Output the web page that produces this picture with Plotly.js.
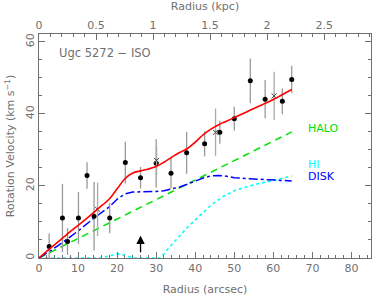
<!DOCTYPE html>
<html>
<head>
<meta charset="utf-8">
<script src="https://cdn.plot.ly/plotly-3.0.1.min.js"></script>
<style>html,body{margin:0;padding:0;background:#fff}#chart{width:375px;height:300px}</style>
</head>
<body>
<div id="chart"></div>
<script>
// observed points (filled circles)
const obsR   = [2.6, 6.0, 7.3, 10.1, 12.3, 14.1, 18.1, 22.1, 26.0, 30.0, 33.8, 37.8, 42.4, 46.3, 50.0, 54.1, 57.9, 62.3, 64.7];
const obsV   = [3.2, 11.1, 4.6, 11.1, 22.9, 11.6, 11.1, 26.5, 22.3, 26.3, 23.5, 29.2, 31.7, 34.9, 38.7, 49.2, 44.1, 43.5, 49.6];
const obsErr = [3.6, 9.5, 3.7, 7.2, 3.7, 9.5, 4.2, 5.8, 3.0, 6.7, 4.3, 5.8, 3.5, 3.2, 3.3, 6.2, 5.3, 3.6, 3.8];
// secondary points (crosses)
const xR   = [15.0, 30.1, 45.2, 60.2];
const xV   = [13.5, 27.1, 34.9, 45.0];
const xErr = [7.4, 4.0, 6.6, 6.7];
// model curves
const totR = [0, 3, 6, 9, 12, 15, 18, 20, 22, 24, 26, 28, 30, 32, 34, 36, 38, 40, 42, 44, 46, 48, 50, 52, 54, 56, 58, 60, 62, 64.7];
const totV = [0, 2.8, 5.5, 8.2, 10.8, 13.6, 16.4, 19.2, 22.0, 23.6, 24.2, 24.7, 25.4, 26.6, 28.0, 29.3, 30.4, 32.2, 34.2, 35.8, 37.0, 38.0, 39.0, 40.0, 41.0, 42.0, 43.0, 44.0, 45.2, 46.8];
const diskR = [0, 5, 10, 14, 18, 20, 22, 24, 26, 28, 30, 32, 34, 36, 38, 40, 42, 44, 46, 48, 50, 54, 58, 62, 64.7];
const diskV = [0, 3.5, 7.5, 11.0, 14.2, 16.3, 17.8, 18.3, 18.4, 18.4, 18.5, 18.7, 19.1, 19.7, 20.5, 21.4, 22.2, 22.8, 22.9, 22.7, 22.3, 22.0, 21.7, 21.5, 21.4];
const haloR = [0, 5, 10, 20, 30, 40, 50, 60, 64.7];
const haloV = [0, 2.7, 5.5, 10.9, 16.4, 21.8, 27.1, 32.4, 35.0];
const hiR = [0, 4, 8, 12, 16, 18, 20, 22, 24, 28, 31, 33, 35, 38, 41, 44, 47, 50, 53, 56, 60, 64.7];
const hiV = [0, 0, 0, 0, 0, 0.6, 1.2, 0.8, 0, 0, 0, 2.5, 5.0, 8.5, 11.6, 14.6, 17.0, 18.7, 19.7, 20.6, 21.5, 22.8];
// axes
const xRange = [0, 85];
const yRange = [0, 62.2];
const arcsecPerKpc = 29.2;
const label = "Ugc 5272 − ISO";

const grey = '#707070';
const font = {family: 'DejaVu Sans', size: 11, color: grey};

const traces = [
  {x: hiR, y: hiV, mode: 'lines', line: {color: '#00ffff', width: 1.6, dash: 'dot'}, hoverinfo: 'skip'},
  {x: haloR, y: haloV, mode: 'lines', line: {color: '#00e000', width: 1.5, dash: '7px,5px'}, hoverinfo: 'skip'},
  {x: diskR, y: diskV, mode: 'lines', line: {color: '#0000ff', width: 1.5, dash: 'dashdot'}, hoverinfo: 'skip'},
  {x: obsR, y: obsV, mode: 'markers', marker: {color: '#000', size: 5},
   error_y: {type: 'data', array: obsErr, color: '#999', thickness: 1.3, width: 0}},
  {x: xR, y: xV, mode: 'markers', marker: {color: '#444', size: 5, symbol: 'x-thin', line: {width: 1, color: '#444'}},
   error_y: {type: 'data', array: xErr, color: '#aaa', thickness: 1.3, width: 0}},
  {x: totR, y: totV, mode: 'lines', line: {color: '#ff0000', width: 1.6, shape: 'spline'}, hoverinfo: 'skip'},
  {x: [0], y: [0], xaxis: 'x2', mode: 'markers', marker: {opacity: 0}, hoverinfo: 'skip'}
];

const layout = {
  width: 375, height: 300,
  margin: {l: 39, r: 4, t: 34, b: 42},
  paper_bgcolor: '#fff', plot_bgcolor: '#fff',
  showlegend: false,
  font: font,
  xaxis: {
    range: xRange, dtick: 10, tick0: 0, ticks: 'inside', ticklen: 6, tickcolor: grey,
    showline: true, linecolor: grey, linewidth: 1, showgrid: false, zeroline: false,
    minor: {dtick: 2, ticks: 'inside', ticklen: 3, tickcolor: grey},
    tickfont: font,
    title: {text: 'Radius (arcsec)', font: font, standoff: 11}
  },
  xaxis2: {
    overlaying: 'x', side: 'top', range: [xRange[0] / arcsecPerKpc, xRange[1] / arcsecPerKpc],
    dtick: 0.5, tick0: 0, ticks: 'inside', ticklen: 6, tickcolor: grey,
    showline: true, linecolor: grey, showgrid: false, zeroline: false,
    minor: {dtick: 0.1, ticks: 'inside', ticklen: 3, tickcolor: grey},
    tickfont: font,
    title: {text: 'Radius (kpc)', font: font, standoff: 5}
  },
  yaxis: {
    range: yRange, dtick: 20, tick0: 0, ticks: 'inside', ticklen: 6, tickcolor: grey,
    showline: true, linecolor: grey, mirror: 'ticks', showgrid: false, zeroline: false,
    minor: {dtick: 5, ticks: 'inside', ticklen: 3, tickcolor: grey},
    tickangle: -90, tickfont: font,
    title: {text: 'Rotation Velocity (km s<sup>−1</sup>)', font: font, standoff: 6}
  },
  annotations: [
    {x: 4.6, y: 56.8, xref: 'x', yref: 'y', text: label, showarrow: false, xanchor: 'left', yanchor: 'middle',
     font: {family: 'DejaVu Sans', size: 11.5, color: grey}},
    {x: 68.3, y: 36, xref: 'x', yref: 'y', text: 'HALO', showarrow: false, xanchor: 'left', yanchor: 'middle',
     font: {family: 'DejaVu Sans', size: 11, color: '#00e000'}},
    {x: 68.3, y: 26.0, xref: 'x', yref: 'y', text: 'HI', showarrow: false, xanchor: 'left', yanchor: 'middle',
     font: {family: 'DejaVu Sans', size: 11, color: '#00ffff'}},
    {x: 68.3, y: 22.5, xref: 'x', yref: 'y', text: 'DISK', showarrow: false, xanchor: 'left', yanchor: 'middle',
     font: {family: 'DejaVu Sans', size: 11, color: '#0000ff'}},
    {x: 26, y: 6.2, xref: 'x', yref: 'y', ax: 26, ay: 1.2, axref: 'x', ayref: 'y', text: '',
     showarrow: true, arrowhead: 2, arrowsize: 1.3, arrowwidth: 1.3, arrowcolor: '#000'}
  ]
};

Plotly.newPlot('chart', traces, layout, {displayModeBar: false, staticPlot: true});
</script>
</body>
</html>
